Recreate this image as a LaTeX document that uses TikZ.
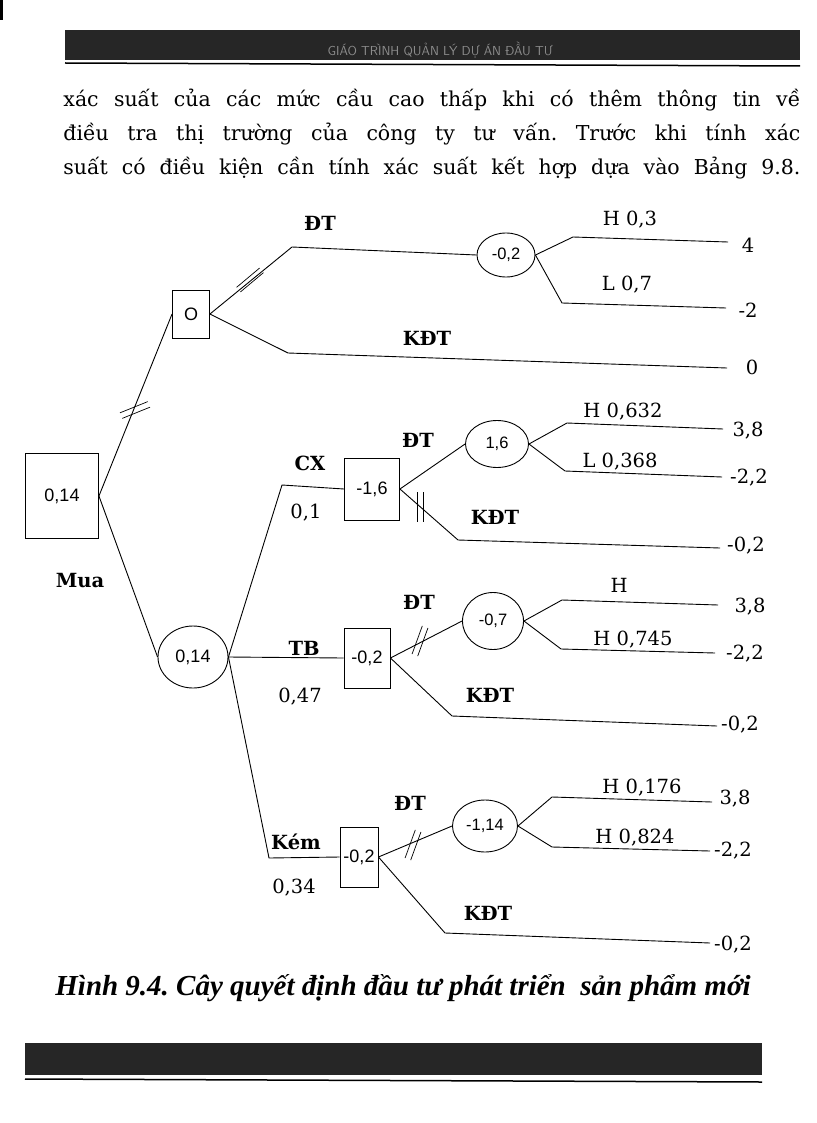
\documentclass[tikz,border=0pt]{standalone}
\usepackage{fontspec}
\setmainfont{DejaVu Serif}
\newfontfamily\numfont{Liberation Sans}
\newfontfamily\capfont{Liberation Serif}
\usetikzlibrary{shapes.geometric}
\frenchspacing
\begin{document}
\begin{tikzpicture}[x=1pt,y=-1pt,line width=0.9pt,
  box/.style={draw,rectangle,inner sep=0pt,font=\numfont\fontsize{18}{18}\selectfont},
  chance/.style={draw,ellipse,inner sep=0pt,font=\numfont\fontsize{16.5}{16}\selectfont},
  lbl/.style={font=\fontsize{19.5}{19}\selectfont\bfseries,inner sep=0pt},
  val/.style={font=\fontsize{19.5}{19}\selectfont,inner sep=0pt},
  para/.style={font=\fontsize{20.5}{20}\selectfont,inner sep=0pt,anchor=base west},
  bar/.style={fill=black!85,draw=none},
  ticks/.pic={\draw[line width=0.7pt] (-3,-15)--(-3,15) (3,-15)--(3,15);}]
\useasboundingbox (0,0) rectangle (816,1123);
\fill[white] (0,0) rectangle (816,1123);
\fill (0,0) rectangle (3,20);
% header
\fill[bar] (65,30) rectangle (800,60);
\draw[line width=1.5pt] (65,63) -- (800,66);
\node[font=\sffamily\fontsize{13}{13}\selectfont,text=black!45] (hd) at (440,50) {GIÁO TRÌNH QUẢN LÝ DỰ ÁN ĐẦU TƯ};
% paragraph
\node[para] (p1) at (63,107) {\makebox[737pt][s]{xác suất của các mức cầu cao thấp khi có thêm thông tin về}};
\node[para] (p2) at (63,141) {\makebox[737pt][s]{điều tra thị trường của công ty tư vấn. Trước khi tính xác}};
\node[para] (p3) at (63,175) {\makebox[737pt][s]{suất có điều kiện cần tính xác suất kết hợp dựa vào Bảng 9.8.}};
% nodes
\node[box,minimum width=73pt,minimum height=85pt] (root) at (62,496) {0,14};
\node[box,minimum width=37pt,minimum height=48pt] (o) at (191,314) {O};
\node[chance,minimum width=58pt,minimum height=44pt] (c1) at (506,255) {-0,2};
\node[chance,minimum width=70pt,minimum height=62pt] (c2) at (193,657) {\fontsize{18}{18}\selectfont 0,14};
\node[box,minimum width=55pt,minimum height=62pt] (b1) at (372,489) {-1,6};
\node[box,minimum width=46pt,minimum height=60pt] (b2) at (367,658) {-0,2};
\node[box,minimum width=38pt,minimum height=60pt] (b3) at (359,857) {-0,2};
\node[chance,minimum width=63pt,minimum height=47pt] (c4) at (497,444) {1,6};
\node[chance,minimum width=61pt,minimum height=57pt] (c5) at (493,621) {-0,7};
\node[chance,minimum width=65pt,minimum height=52pt] (c6) at (485,826) {-1,14};
% top part
\draw (root.east) -- (o.west);
\pic[rotate=-68] at (135,410) {ticks};
\draw (o.east) -- (292,247) -- (c1.west);
\pic[rotate=-50] at (250,280) {ticks};
\draw (o.east) -- (288,353) -- (727,368);
\draw (c1.east) -- (573,237) -- (728,242);
\draw (c1.east) -- (562,303) -- (726,308);
\node[lbl] (l1) at (320,223) {ĐT};
\node[lbl] (l2) at (427,338) {KĐT};
\node[val] (v1) at (630,220) {H 0,3};
\node[val] (v2) at (627,285) {L 0,7};
\node[val] (v3) at (748,245) {4};
\node[val] (v4) at (748,310) {-2};
\node[val] (v5) at (752,367) {0};
\node[lbl] (mua) at (80,581) {Mua};
% root to chance
\draw (root.east) -- (c2.west);
\draw (c2.east) -- (282,485) -- (b1.west);
\draw (c2.east) -- (b2.west);
\draw (c2.east) -- (269,858) -- (b3.west);
\node[lbl] (cx) at (310,463) {CX};
\node[val] (q1) at (306,513) {0,1};
\node[lbl] (tb) at (304,648) {TB};
\node[val] (q2) at (300,697) {0,47};
\node[lbl] (km) at (296,842) {Kém};
\node[val] (q3) at (294,888) {0,34};
% CX branch
\draw (b1.east) -- (c4.west);
\draw (c4.east) -- (567,423) -- (723,429);
\draw (c4.east) -- (565,471) -- (722,477);
\draw (b1.east) -- (458,540) -- (720,548);
\pic at (420,507) {ticks};
\node[lbl] (d2) at (418,440) {ĐT};
\node[lbl] (k2) at (495,517) {KĐT};
\node[val] at (623,412) {H 0,632};
\node[val] at (620,462) {L 0,368};
\node[val] at (748,431) {3,8};
\node[val] at (749,478) {-2,2};
\node[val] at (746,546) {-0,2};
% TB branch
\draw (b2.east) -- (c5.west);
\draw (c5.east) -- (562,600) -- (718,605);
\draw (c5.east) -- (561,649) -- (715,653);
\draw (b2.east) -- (452,716) -- (717,726);
\pic[rotate=-20] at (420,641) {ticks};
\node[lbl] at (419,602) {ĐT};
\node[lbl] at (490,695) {KĐT};
\node[val] at (619,585) {H};
\node[val] at (633,640) {H 0,745};
\node[val] at (750,607) {3,8};
\node[val] at (745,654) {-2,2};
\node[val] at (740,725) {-0,2};
% Kem branch
\draw (b3.east) -- (c6.west);
\draw (c6.east) -- (552,797) -- (712,802);
\draw (c6.east) -- (552,847) -- (710,851);
\draw (b3.east) -- (445,933) -- (710,943);
\pic[rotate=-20] at (413,845) {ticks};
\node[lbl] at (410,803) {ĐT};
\node[lbl] at (488,913) {KĐT};
\node[val] at (642,788) {H 0,176};
\node[val] at (635,838) {H 0,824};
\node[val] at (735,799) {3,8};
\node[val] at (733,851) {-2,2};
\node[val] at (733,945) {-0,2};
% caption
\node[font=\capfont\fontsize{29}{29}\selectfont\bfseries\itshape,inner sep=0pt] (cap) at (403,988) {Hình 9.4. Cây quyết định đầu tư phát triển\ \ sản phẩm mới};
% footer
\fill[bar] (25,1043) rectangle (762,1075);
\draw[line width=1.5pt] (25,1079) -- (762,1082);
\end{tikzpicture}
\end{document}
